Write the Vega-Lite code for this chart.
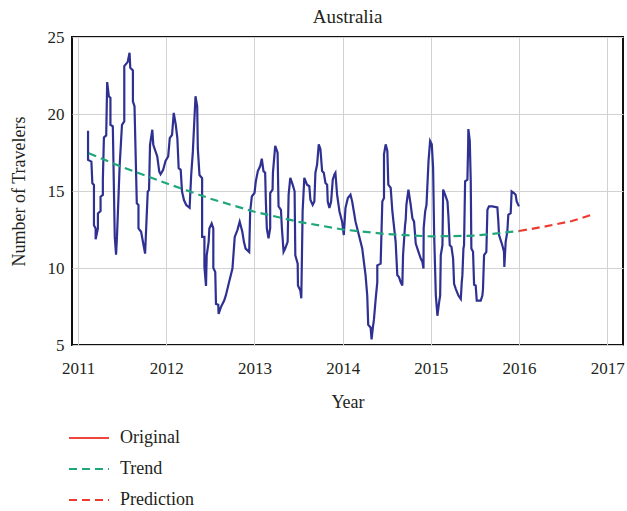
{
  "$schema": "https://vega.github.io/schema/vega-lite/v6.json",
  "autosize": {"type": "none"},
  "width": 551,
  "height": 308,
  "padding": {"left": 72, "top": 37, "right": 4, "bottom": 166},
  "background": "white",
  "title": {"text": "Australia", "font": "Liberation Serif", "fontSize": 19, "fontWeight": "normal", "color": "#231f20", "offset": 1},
  "config": {
    "view": {"stroke": "#111111", "strokeWidth": 2},
    "axis": {
      "labelFont": "Liberation Serif", "labelFontSize": 17, "labelColor": "#231f20",
      "titleFont": "Liberation Serif", "titleFontSize": 18, "titleFontWeight": "normal", "titleColor": "#231f20",
      "gridColor": "#d2d2d2", "gridWidth": 1, "ticks": false, "domain": false
    }
  },
  "datasets": {
    "original": [
      {"year": 2011.112, "travelers": 18.91}, {"year": 2011.112, "travelers": 17.02}, {"year": 2011.150, "travelers": 16.91},
      {"year": 2011.161, "travelers": 15.50}, {"year": 2011.179, "travelers": 15.39}, {"year": 2011.179, "travelers": 12.78},
      {"year": 2011.198, "travelers": 12.57}, {"year": 2011.198, "travelers": 11.87}, {"year": 2011.224, "travelers": 12.57},
      {"year": 2011.224, "travelers": 13.54}, {"year": 2011.254, "travelers": 13.70}, {"year": 2011.254, "travelers": 14.63},
      {"year": 2011.280, "travelers": 14.74}, {"year": 2011.280, "travelers": 15.72}, {"year": 2011.292, "travelers": 18.48},
      {"year": 2011.318, "travelers": 18.61}, {"year": 2011.329, "travelers": 22.07}, {"year": 2011.348, "travelers": 21.15},
      {"year": 2011.366, "travelers": 21.04}, {"year": 2011.366, "travelers": 19.30}, {"year": 2011.393, "travelers": 19.20},
      {"year": 2011.415, "travelers": 12.02}, {"year": 2011.430, "travelers": 10.87}, {"year": 2011.441, "travelers": 12.13},
      {"year": 2011.471, "travelers": 16.70}, {"year": 2011.497, "travelers": 19.30}, {"year": 2011.523, "travelers": 19.52},
      {"year": 2011.523, "travelers": 23.11}, {"year": 2011.561, "travelers": 23.37}, {"year": 2011.583, "travelers": 23.98},
      {"year": 2011.591, "travelers": 23.00}, {"year": 2011.621, "travelers": 22.83}, {"year": 2011.621, "travelers": 20.83},
      {"year": 2011.639, "travelers": 20.50}, {"year": 2011.665, "travelers": 14.20}, {"year": 2011.684, "travelers": 14.09},
      {"year": 2011.684, "travelers": 12.57}, {"year": 2011.714, "travelers": 12.35}, {"year": 2011.759, "travelers": 10.93},
      {"year": 2011.789, "travelers": 14.96}, {"year": 2011.804, "travelers": 15.07}, {"year": 2011.815, "travelers": 18.00},
      {"year": 2011.841, "travelers": 18.98}, {"year": 2011.852, "travelers": 18.00}, {"year": 2011.897, "travelers": 17.24},
      {"year": 2011.920, "travelers": 16.26}, {"year": 2011.935, "travelers": 16.09}, {"year": 2011.964, "travelers": 16.37},
      {"year": 2011.991, "travelers": 16.96}, {"year": 2012.021, "travelers": 17.24}, {"year": 2012.039, "travelers": 18.43},
      {"year": 2012.065, "travelers": 18.65}, {"year": 2012.084, "travelers": 20.07}, {"year": 2012.107, "travelers": 19.30},
      {"year": 2012.125, "travelers": 18.43}, {"year": 2012.140, "travelers": 16.48}, {"year": 2012.163, "travelers": 16.37},
      {"year": 2012.178, "travelers": 14.96}, {"year": 2012.200, "travelers": 14.41}, {"year": 2012.226, "travelers": 14.09},
      {"year": 2012.264, "travelers": 13.91}, {"year": 2012.282, "travelers": 16.04}, {"year": 2012.301, "travelers": 17.57},
      {"year": 2012.331, "travelers": 21.15}, {"year": 2012.350, "travelers": 20.50}, {"year": 2012.357, "travelers": 17.78},
      {"year": 2012.376, "travelers": 16.04}, {"year": 2012.406, "travelers": 15.83}, {"year": 2012.406, "travelers": 12.02},
      {"year": 2012.432, "travelers": 12.02}, {"year": 2012.432, "travelers": 10.07}, {"year": 2012.450, "travelers": 8.83},
      {"year": 2012.458, "travelers": 10.83}, {"year": 2012.480, "travelers": 11.70}, {"year": 2012.488, "travelers": 12.57},
      {"year": 2012.514, "travelers": 12.89}, {"year": 2012.533, "travelers": 12.57}, {"year": 2012.533, "travelers": 10.00},
      {"year": 2012.555, "travelers": 9.74}, {"year": 2012.563, "travelers": 7.67}, {"year": 2012.589, "travelers": 7.61},
      {"year": 2012.593, "travelers": 7.02}, {"year": 2012.619, "travelers": 7.46}, {"year": 2012.656, "travelers": 7.89},
      {"year": 2012.675, "travelers": 8.22}, {"year": 2012.712, "travelers": 9.09}, {"year": 2012.750, "travelers": 9.96},
      {"year": 2012.776, "travelers": 12.02}, {"year": 2012.806, "travelers": 12.46}, {"year": 2012.832, "travelers": 13.00},
      {"year": 2012.862, "travelers": 12.35}, {"year": 2012.880, "travelers": 11.70}, {"year": 2012.899, "travelers": 11.26},
      {"year": 2012.940, "travelers": 11.04}, {"year": 2012.951, "travelers": 13.67}, {"year": 2012.970, "travelers": 14.65},
      {"year": 2013.000, "travelers": 14.87}, {"year": 2013.015, "travelers": 15.63}, {"year": 2013.038, "travelers": 16.29},
      {"year": 2013.065, "travelers": 16.62}, {"year": 2013.083, "travelers": 17.10}, {"year": 2013.102, "travelers": 16.29},
      {"year": 2013.121, "travelers": 16.18}, {"year": 2013.129, "travelers": 14.32}, {"year": 2013.140, "travelers": 12.58},
      {"year": 2013.159, "travelers": 11.92}, {"year": 2013.178, "travelers": 12.58}, {"year": 2013.178, "travelers": 14.87},
      {"year": 2013.205, "travelers": 15.09}, {"year": 2013.209, "travelers": 16.18}, {"year": 2013.235, "travelers": 17.93},
      {"year": 2013.262, "travelers": 17.49}, {"year": 2013.273, "travelers": 14.00}, {"year": 2013.300, "travelers": 13.78},
      {"year": 2013.311, "travelers": 12.58}, {"year": 2013.330, "travelers": 11.05}, {"year": 2013.349, "travelers": 11.27},
      {"year": 2013.376, "travelers": 11.70}, {"year": 2013.387, "travelers": 14.76}, {"year": 2013.406, "travelers": 15.85},
      {"year": 2013.433, "travelers": 15.41}, {"year": 2013.455, "travelers": 14.98}, {"year": 2013.463, "travelers": 10.83},
      {"year": 2013.490, "travelers": 10.28}, {"year": 2013.493, "travelers": 8.86}, {"year": 2013.520, "travelers": 8.54},
      {"year": 2013.531, "travelers": 8.03}, {"year": 2013.546, "travelers": 13.67}, {"year": 2013.565, "travelers": 15.85},
      {"year": 2013.596, "travelers": 15.41}, {"year": 2013.622, "travelers": 15.31}, {"year": 2013.634, "travelers": 14.43},
      {"year": 2013.660, "travelers": 14.10}, {"year": 2013.679, "travelers": 14.32}, {"year": 2013.691, "travelers": 16.18},
      {"year": 2013.710, "travelers": 16.72}, {"year": 2013.729, "travelers": 18.03}, {"year": 2013.748, "travelers": 17.71},
      {"year": 2013.767, "travelers": 16.29}, {"year": 2013.786, "travelers": 16.18}, {"year": 2013.805, "travelers": 15.52},
      {"year": 2013.824, "travelers": 15.41}, {"year": 2013.831, "travelers": 14.32}, {"year": 2013.850, "travelers": 13.89},
      {"year": 2013.869, "travelers": 14.32}, {"year": 2013.888, "travelers": 15.74}, {"year": 2013.907, "travelers": 16.07},
      {"year": 2013.918, "travelers": 16.18}, {"year": 2013.937, "travelers": 14.76}, {"year": 2013.964, "travelers": 13.67},
      {"year": 2013.994, "travelers": 13.01}, {"year": 2014.013, "travelers": 12.14}, {"year": 2014.032, "travelers": 13.89},
      {"year": 2014.059, "travelers": 14.54}, {"year": 2014.089, "travelers": 14.76}, {"year": 2014.108, "travelers": 14.32},
      {"year": 2014.127, "travelers": 13.67}, {"year": 2014.146, "travelers": 13.01}, {"year": 2014.184, "travelers": 12.14},
      {"year": 2014.222, "travelers": 11.27}, {"year": 2014.241, "travelers": 10.39}, {"year": 2014.260, "travelers": 9.52},
      {"year": 2014.279, "travelers": 8.21}, {"year": 2014.290, "travelers": 6.31}, {"year": 2014.317, "travelers": 6.14},
      {"year": 2014.328, "travelers": 5.37}, {"year": 2014.343, "travelers": 6.14}, {"year": 2014.355, "travelers": 6.66},
      {"year": 2014.374, "travelers": 7.95}, {"year": 2014.393, "travelers": 9.08}, {"year": 2014.393, "travelers": 10.17},
      {"year": 2014.431, "travelers": 10.28}, {"year": 2014.450, "travelers": 14.32}, {"year": 2014.469, "travelers": 14.54},
      {"year": 2014.469, "travelers": 17.38}, {"year": 2014.488, "travelers": 18.03}, {"year": 2014.507, "travelers": 17.60},
      {"year": 2014.518, "travelers": 15.41}, {"year": 2014.545, "travelers": 15.20}, {"year": 2014.564, "travelers": 13.67},
      {"year": 2014.601, "travelers": 11.70}, {"year": 2014.620, "travelers": 9.52}, {"year": 2014.639, "travelers": 9.41},
      {"year": 2014.658, "travelers": 9.08}, {"year": 2014.677, "travelers": 8.86}, {"year": 2014.685, "travelers": 10.83},
      {"year": 2014.708, "travelers": 12.79}, {"year": 2014.715, "travelers": 13.12}, {"year": 2014.723, "travelers": 14.10},
      {"year": 2014.746, "travelers": 15.09}, {"year": 2014.772, "travelers": 14.10}, {"year": 2014.791, "travelers": 13.23},
      {"year": 2014.810, "travelers": 13.01}, {"year": 2014.829, "travelers": 11.59}, {"year": 2014.860, "travelers": 11.05},
      {"year": 2014.886, "travelers": 10.61}, {"year": 2014.905, "travelers": 10.39}, {"year": 2014.917, "travelers": 9.96},
      {"year": 2014.919, "travelers": 12.58}, {"year": 2014.936, "travelers": 13.67}, {"year": 2014.951, "travelers": 14.10},
      {"year": 2014.974, "travelers": 16.94}, {"year": 2014.992, "travelers": 18.25}, {"year": 2015.011, "travelers": 18.03},
      {"year": 2015.026, "travelers": 16.51}, {"year": 2015.038, "travelers": 12.14}, {"year": 2015.057, "travelers": 8.21},
      {"year": 2015.075, "travelers": 6.90}, {"year": 2015.094, "travelers": 7.77}, {"year": 2015.106, "travelers": 8.21},
      {"year": 2015.113, "travelers": 10.83}, {"year": 2015.132, "travelers": 11.48}, {"year": 2015.140, "travelers": 15.09},
      {"year": 2015.162, "travelers": 14.76}, {"year": 2015.189, "travelers": 14.32}, {"year": 2015.200, "travelers": 13.34},
      {"year": 2015.215, "travelers": 11.48}, {"year": 2015.234, "travelers": 11.38}, {"year": 2015.253, "travelers": 10.61},
      {"year": 2015.264, "travelers": 8.97}, {"year": 2015.283, "travelers": 8.65}, {"year": 2015.313, "travelers": 8.21},
      {"year": 2015.340, "travelers": 7.99}, {"year": 2015.351, "travelers": 9.08}, {"year": 2015.358, "travelers": 9.52},
      {"year": 2015.370, "travelers": 11.27}, {"year": 2015.377, "travelers": 11.48}, {"year": 2015.389, "travelers": 15.63},
      {"year": 2015.415, "travelers": 15.74}, {"year": 2015.423, "travelers": 17.82}, {"year": 2015.426, "travelers": 19.02},
      {"year": 2015.442, "travelers": 18.25}, {"year": 2015.453, "travelers": 15.63}, {"year": 2015.460, "travelers": 11.27},
      {"year": 2015.479, "travelers": 11.05}, {"year": 2015.491, "travelers": 8.91}, {"year": 2015.509, "travelers": 8.86},
      {"year": 2015.521, "travelers": 7.88}, {"year": 2015.566, "travelers": 7.88}, {"year": 2015.585, "travelers": 8.21},
      {"year": 2015.592, "travelers": 8.65}, {"year": 2015.604, "travelers": 10.83}, {"year": 2015.630, "travelers": 11.05},
      {"year": 2015.642, "travelers": 13.78}, {"year": 2015.660, "travelers": 14.00}, {"year": 2015.698, "travelers": 14.00},
      {"year": 2015.755, "travelers": 13.93}, {"year": 2015.766, "travelers": 13.01}, {"year": 2015.774, "travelers": 12.14},
      {"year": 2015.811, "travelers": 11.48}, {"year": 2015.830, "travelers": 11.05}, {"year": 2015.834, "travelers": 10.07},
      {"year": 2015.849, "travelers": 11.70}, {"year": 2015.868, "travelers": 12.36}, {"year": 2015.879, "travelers": 13.45},
      {"year": 2015.906, "travelers": 13.56}, {"year": 2015.917, "travelers": 14.98}, {"year": 2015.943, "travelers": 14.87},
      {"year": 2015.962, "travelers": 14.76}, {"year": 2015.974, "travelers": 14.32}, {"year": 2016.000, "travelers": 14.00}
    ],
    "fitted": [
      {"series": "Trend", "year": 2011.12, "travelers": 17.45},
      {"series": "Trend", "year": 2011.5, "travelers": 16.55},
      {"series": "Trend", "year": 2012.0, "travelers": 15.5},
      {"series": "Trend", "year": 2012.5, "travelers": 14.5},
      {"series": "Trend", "year": 2013.0, "travelers": 13.65},
      {"series": "Trend", "year": 2013.5, "travelers": 13.0},
      {"series": "Trend", "year": 2014.0, "travelers": 12.5},
      {"series": "Trend", "year": 2014.5, "travelers": 12.2},
      {"series": "Trend", "year": 2015.0, "travelers": 12.05},
      {"series": "Trend", "year": 2015.5, "travelers": 12.1},
      {"series": "Trend", "year": 2016.0, "travelers": 12.4},
      {"series": "Prediction", "year": 2016.0, "travelers": 12.4},
      {"series": "Prediction", "year": 2016.3, "travelers": 12.7},
      {"series": "Prediction", "year": 2016.6, "travelers": 13.05},
      {"series": "Prediction", "year": 2016.85, "travelers": 13.5}
    ]
  },
  "layer": [
    {
      "data": {"name": "original"},
      "mark": {"type": "line", "color": "#2e3192", "strokeWidth": 2.2, "strokeJoin": "miter"},
      "encoding": {
        "x": {
          "field": "year", "type": "quantitative",
          "scale": {"domain": [2010.93, 2017.18], "nice": false, "zero": false},
          "axis": {"values": [2011, 2012, 2013, 2014, 2015, 2016, 2017], "format": "d", "title": "Year", "labelPadding": 15, "titlePadding": 17}
        },
        "y": {
          "field": "travelers", "type": "quantitative",
          "scale": {"domain": [5, 25], "nice": false, "zero": false},
          "axis": {"values": [5, 10, 15, 20, 25], "title": "Number of Travelers", "labelPadding": 8, "titlePadding": 19}
        },
        "order": {"value": null}
      }
    },
    {
      "data": {"name": "fitted"},
      "mark": {"type": "line", "strokeWidth": 2.2},
      "encoding": {
        "x": {"field": "year", "type": "quantitative"},
        "y": {"field": "travelers", "type": "quantitative"},
        "color": {
          "field": "series", "type": "nominal",
          "scale": {"domain": ["Original", "Trend", "Prediction"], "range": ["#f0473c", "#1fa67a", "#ee3b30"]},
          "legend": {
            "title": null, "orient": "none", "legendX": -4, "legendY": 380, "direction": "vertical",
            "symbolType": "stroke", "symbolSize": 1600, "symbolStrokeWidth": 2,
            "labelFont": "Liberation Serif", "labelFontSize": 18, "labelColor": "#231f20",
            "labelOffset": 10, "rowPadding": 1
          }
        },
        "strokeDash": {
          "field": "series", "type": "nominal",
          "scale": {"domain": ["Original", "Trend", "Prediction"], "range": [[1, 0], [8, 5], [8, 5]]}
        }
      }
    }
  ]
}
